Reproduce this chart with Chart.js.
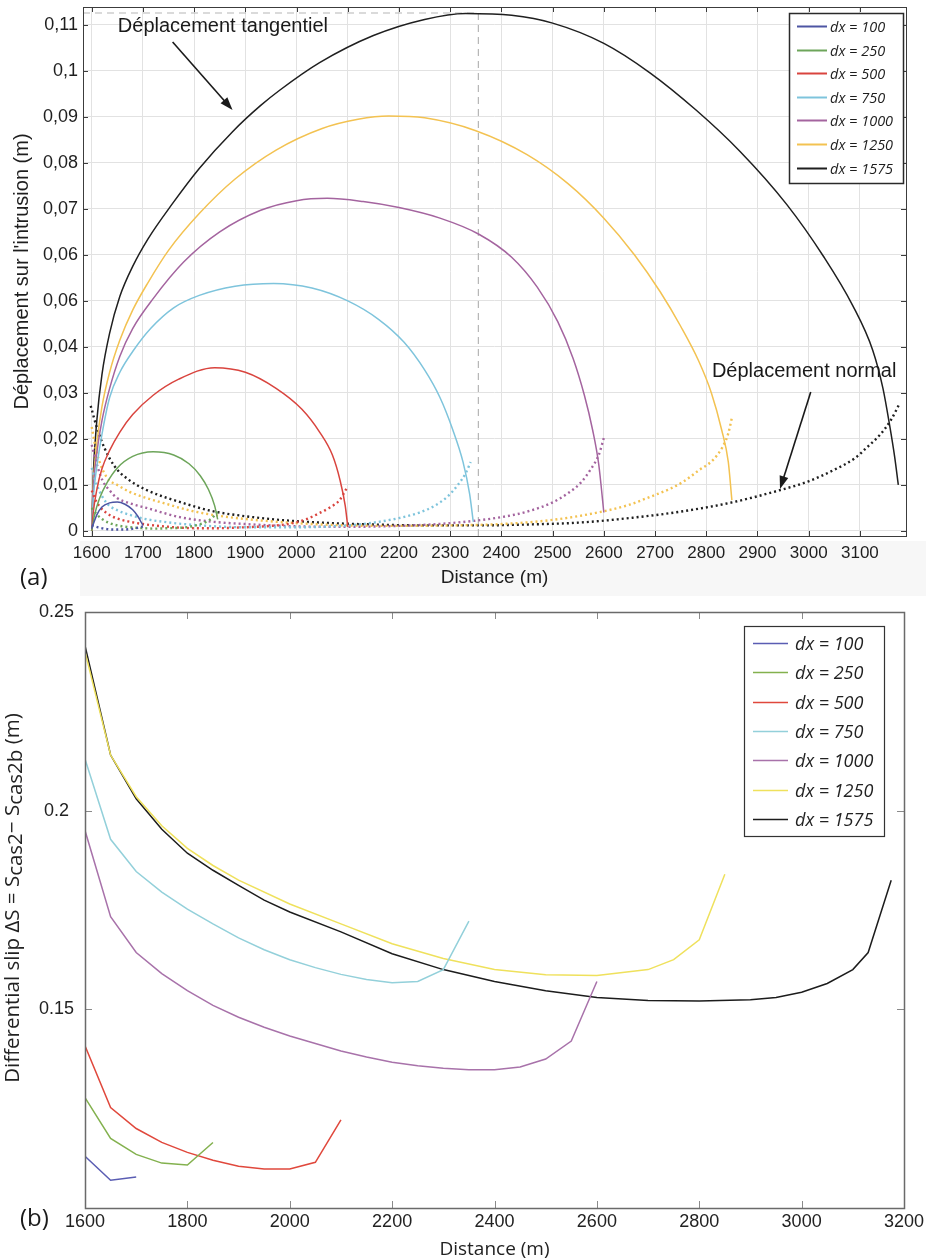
<!DOCTYPE html>
<html><head><meta charset="utf-8">
<script src="https://cdn.jsdelivr.net/npm/chart.js@4.4.1/dist/chart.umd.min.js"></script>
<style>
html,body{margin:0;padding:0;background:#fff;}
#wrap{position:relative;width:926px;height:1260px;overflow:hidden;}
#ca{position:absolute;left:0;top:0;}
#cb{position:absolute;left:0;top:600px;}
</style></head><body>
<div id="wrap">
<canvas id="ca" width="926" height="600"></canvas>
<canvas id="cb" width="926" height="660"></canvas>
</div>
<script>
// ---------------- DATA ----------------
const seriesLabels = ['dx = 100','dx = 250','dx = 500','dx = 750','dx = 1000','dx = 1250','dx = 1575'];

// Panel (a) axis ticks
const xTicksA = [1600,1700,1800,1900,2000,2100,2200,2300,2400,2500,2600,2700,2800,2900,3000,3100];
const xTickLabelsA = ['1600','1700','1800','1900','2000','2100','2200','2300','2400','2500','2600','2700','2800','2900','3000','3100'];
const yTicksA = [0,0.01,0.02,0.03,0.04,0.05,0.06,0.07,0.08,0.09,0.1,0.11];
const yTickLabelsA = ['0','0,01','0,02','0,03','0,04','0,06','0,06','0,07','0,08','0,09','0,1','0,11'];

// Panel (a) tangential displacement (solid)
const tan100X = [1600,1610,1620,1635,1650,1665,1680,1690,1700];
const tan100Y = [0.0005,0.0035,0.0052,0.0061,0.0063,0.0058,0.0046,0.0032,0.0012];
const tan250X = [1600,1605,1615,1630,1650,1680,1720,1760,1790,1812,1828,1840,1846];
const tan250Y = [0,0.0032,0.0070,0.0105,0.0137,0.0162,0.0172,0.0165,0.0146,0.0120,0.0090,0.0055,0.0025];
const tan500X = [1600,1603,1610,1620,1635,1655,1680,1720,1770,1840,1900,1960,2010,2045,2070,2085,2095,2100];
const tan500Y = [0,0.004,0.009,0.0135,0.0175,0.0215,0.0253,0.0295,0.0330,0.0355,0.0345,0.0310,0.0265,0.0215,0.0165,0.0110,0.0055,0.0009];
const tan750X = [1600,1603,1610,1620,1635,1655,1680,1715,1760,1810,1880,1955,2030,2100,2160,2210,2250,2280,2305,2325,2338,2345];
const tan750Y = [0,0.007,0.014,0.021,0.029,0.0345,0.0390,0.0440,0.0485,0.0512,0.0532,0.0538,0.0528,0.0500,0.0460,0.0410,0.0350,0.0290,0.0220,0.0150,0.0080,0.0020];
const tan1000X = [1600,1603,1610,1620,1635,1655,1680,1720,1780,1850,1930,2000,2060,2130,2200,2280,2356,2420,2470,2510,2540,2562,2578,2590,2600];
const tan1000Y = [0,0.009,0.017,0.024,0.031,0.038,0.0440,0.0505,0.0585,0.0650,0.0697,0.0718,0.0723,0.0716,0.0703,0.0680,0.0645,0.0595,0.0530,0.0455,0.0375,0.0295,0.0220,0.0145,0.0040];
const tan1250X = [1600,1603,1610,1620,1635,1655,1680,1710,1750,1810,1880,1960,2050,2120,2180,2250,2350,2450,2530,2600,2660,2710,2750,2785,2810,2830,2843,2850];
const tan1250Y = [0,0.010,0.019,0.027,0.0345,0.0415,0.048,0.054,0.0610,0.0690,0.0765,0.0828,0.0875,0.0895,0.0902,0.0898,0.0870,0.0818,0.0755,0.0680,0.0600,0.0520,0.0445,0.0370,0.0300,0.0220,0.0150,0.0067];
const tan1575X = [1600,1603,1610,1620,1635,1655,1680,1710,1758,1810,1875,1930,1967,2045,2150,2250,2330,2420,2500,2600,2690,2780,2866,2957,3030,3086,3125,3145,3158,3168,3175];
const tan1575Y = [0,0.012,0.024,0.034,0.043,0.051,0.0575,0.0635,0.0712,0.0788,0.0868,0.0925,0.0958,0.1018,0.1077,0.1112,0.1125,0.1121,0.1104,0.1060,0.0996,0.0915,0.0825,0.0710,0.0595,0.0490,0.0393,0.0310,0.0230,0.0160,0.0100];

// Panel (a) normal displacement (dotted)
const nor100X = [1600,1615,1630,1645,1660,1675,1690,1700];
const nor100Y = [0.0012,0.0007,0.0004,0.0003,0.0003,0.0004,0.0007,0.0010];
const nor250X = [1600,1610,1620,1635,1650,1675,1700,1725,1750,1775,1800,1820,1835,1848];
const nor250Y = [0.0050,0.0036,0.0026,0.0017,0.0012,0.0008,0.0006,0.0005,0.0006,0.0007,0.0011,0.0018,0.0028,0.0045];
const nor500X = [1600,1610,1629,1650,1674,1700,1750,1800,1850,1900,1950,1993,2020,2045,2065,2084,2098];
const nor500Y = [0.0088,0.0062,0.0039,0.0027,0.0020,0.0015,0.0009,0.0006,0.0006,0.0008,0.0011,0.0017,0.0026,0.0039,0.0051,0.0067,0.0093];
const nor750X = [1600,1610,1629,1650,1674,1700,1739,1800,1900,2000,2100,2150,2200,2240,2270,2295,2315,2330,2340];
const nor750Y = [0.0137,0.0100,0.0061,0.0045,0.0035,0.0027,0.0020,0.0013,0.0008,0.0008,0.0012,0.0018,0.0028,0.0040,0.0055,0.0075,0.0100,0.0125,0.0150];
const nor1000X = [1600,1610,1621,1635,1649,1675,1707,1772,1836,1900,2000,2100,2200,2300,2400,2450,2500,2530,2555,2575,2590,2600];
const nor1000Y = [0.0187,0.0145,0.0110,0.0088,0.0072,0.0060,0.0050,0.0030,0.0020,0.0015,0.0010,0.0009,0.0011,0.0017,0.0030,0.0042,0.0062,0.0082,0.0105,0.0135,0.0165,0.0202];
const nor1250X = [1600,1610,1629,1650,1674,1700,1739,1790,1836,1900,2000,2100,2200,2300,2400,2500,2592,2650,2690,2730,2755,2787,2813,2832,2843,2850];
const nor1250Y = [0.0226,0.0170,0.0117,0.0100,0.0085,0.0074,0.0061,0.0045,0.0035,0.0026,0.0017,0.0012,0.0011,0.0012,0.0015,0.0024,0.0041,0.0057,0.0074,0.0092,0.0107,0.0133,0.0154,0.0183,0.0212,0.0246];
const nor1575X = [1598,1610,1625,1645,1670,1707,1772,1836,1900,1967,2050,2150,2250,2350,2450,2550,2650,2750,2850,2945,3000,3050,3090,3115,3140,3160,3178];
const nor1575Y = [0.0272,0.0225,0.0180,0.0140,0.0113,0.0089,0.0063,0.0043,0.0032,0.0024,0.0018,0.0014,0.0012,0.0012,0.0014,0.0018,0.0028,0.0042,0.0062,0.0089,0.0108,0.0133,0.0158,0.0183,0.0210,0.0240,0.0278];

// Panel (a) reference (dashed) at maximum tangential displacement
const peakDistance = 2355;
const peakDisplacement = 0.1126;

// Panel (b) axis ticks
const xTicksB = [1600,1800,2000,2200,2400,2600,2800,3000,3200];
const xTickLabelsB = ['1600','1800','2000','2200','2400','2600','2800','3000','3200'];
const yTicksB = [0.15,0.2,0.25];
const yTickLabelsB = ['0.15','0.2','0.25'];

// Panel (b) differential slip
const dif100X = [1600,1650,1700];
const dif100Y = [0.1130,0.1070,0.1078];
const dif250X = [1600,1650,1700,1750,1800,1850];
const dif250Y = [0.1278,0.1175,0.1135,0.1113,0.1108,0.1165];
const dif500X = [1600,1650,1700,1750,1800,1850,1900,1950,2000,2050,2100];
const dif500Y = [0.1408,0.1253,0.1200,0.1165,0.1140,0.1120,0.1105,0.1098,0.1098,0.1115,0.1222];
const dif750X = [1600,1650,1700,1750,1800,1850,1900,1950,2000,2050,2100,2150,2200,2250,2300,2350];
const dif750Y = [0.2130,0.1928,0.1847,0.1795,0.1752,0.1715,0.1680,0.1650,0.1625,0.1605,0.1588,0.1575,0.1567,0.1570,0.1600,0.1722];
const dif1000X = [1600,1650,1700,1750,1800,1850,1900,1950,2000,2050,2100,2150,2200,2250,2300,2350,2400,2450,2500,2550,2600];
const dif1000Y = [0.1950,0.1733,0.1643,0.1590,0.1547,0.1510,0.1480,0.1455,0.1433,0.1414,0.1395,0.1380,0.1367,0.1358,0.1352,0.1348,0.1348,0.1355,0.1375,0.1420,0.1570];
const dif1250X = [1600,1650,1700,1750,1800,1850,1900,2000,2100,2200,2300,2400,2500,2600,2700,2750,2800,2850];
const dif1250Y = [0.2400,0.2140,0.2035,0.1962,0.1905,0.1862,0.1825,0.1765,0.1715,0.1665,0.1628,0.1600,0.1587,0.1585,0.1600,0.1625,0.1675,0.1840];
const dif1575X = [1600,1650,1700,1750,1800,1850,1900,1950,2000,2100,2200,2300,2400,2500,2600,2700,2800,2900,2950,3000,3050,3100,3130,3175];
const dif1575Y = [0.2415,0.2140,0.2030,0.1953,0.1893,0.1850,0.1812,0.1775,0.1745,0.1695,0.1640,0.1600,0.1570,0.1547,0.1530,0.1522,0.1521,0.1524,0.1530,0.1543,0.1565,0.1600,0.1643,0.1825];

// ---------------- STYLE / LAYOUT ----------------
const SANS = "'Liberation Sans', Arial, sans-serif";
const MYR = "'Open Sans', 'Liberation Sans', sans-serif";
Chart.defaults.font.family = SANS;
const colorsA = ['#4d55a3','#6da55a','#d9443e','#7ec4dc','#a4649f','#f3c251','#1f1f1f'];
const colorsB = ['#5a5db3','#83b14e','#e0483c','#93d0da','#a872aa','#efe15c','#1c1c1c'];

const pts = (xs, ys) => xs.map((x, i) => ({x: x, y: ys[i]}));
const tanX = [tan100X,tan250X,tan500X,tan750X,tan1000X,tan1250X,tan1575X];
const tanY = [tan100Y,tan250Y,tan500Y,tan750Y,tan1000Y,tan1250Y,tan1575Y];
const norX = [nor100X,nor250X,nor500X,nor750X,nor1000X,nor1250X,nor1575X];
const norY = [nor100Y,nor250Y,nor500Y,nor750Y,nor1000Y,nor1250Y,nor1575Y];
const difX = [dif100X,dif250X,dif500X,dif750X,dif1000X,dif1250X,dif1575X];
const difY = [dif100Y,dif250Y,dif500Y,dif750Y,dif1000Y,dif1250Y,dif1575Y];

const xMinA = 1583, xMaxA = 3190, yMinA = -0.0011, yMaxA = 0.1139;

const noPadX = s => { s.paddingLeft = 0; s.paddingRight = 0; };
const noPadY = s => { s.paddingTop = 0; s.paddingBottom = 0; };

// ---------------- PLUGINS ----------------
const framePlugin = {
  id: 'frame',
  afterDatasetsDraw(chart, args, o) {
    const {ctx, chartArea: a, scales} = chart;
    ctx.save();
    ctx.setLineDash([]);
    ctx.strokeStyle = o.tickColor; ctx.lineWidth = o.tickWidth;
    ctx.beginPath();
    scales.x.ticks.forEach(t => {
      const p = Math.round(scales.x.getPixelForValue(t.value)) + 0.5;
      if (p <= a.left + 1 || p >= a.right - 1) return;
      ctx.moveTo(p, a.bottom); ctx.lineTo(p, a.bottom - o.len);
      ctx.moveTo(p, a.top); ctx.lineTo(p, a.top + o.len);
    });
    scales.y.ticks.forEach(t => {
      const p = Math.round(scales.y.getPixelForValue(t.value)) + 0.5;
      if (p <= a.top + 1 || p >= a.bottom - 1) return;
      ctx.moveTo(a.left, p); ctx.lineTo(a.left + o.len, p);
      ctx.moveTo(a.right, p); ctx.lineTo(a.right - o.len, p);
    });
    ctx.stroke();
    ctx.strokeStyle = o.color; ctx.lineWidth = o.width;
    ctx.strokeRect(Math.round(a.left) + 0.5, Math.round(a.top) + 0.5, Math.round(a.right - a.left), Math.round(a.bottom - a.top));
    ctx.restore();
  }
};

const boxLegend = {
  id: 'boxLegend',
  afterDraw(chart, args, o) {
    const ctx = chart.ctx;
    ctx.save();
    ctx.setLineDash([]);
    ctx.fillStyle = '#fff';
    ctx.fillRect(o.x, o.y, o.w, o.h);
    ctx.strokeStyle = o.border; ctx.lineWidth = o.borderWidth;
    ctx.strokeRect(o.x + 0.5, o.y + 0.5, o.w, o.h);
    let i = 0;
    chart.data.datasets.forEach(ds => {
      if (!ds.inLegend) return;
      const cy = Math.round(o.y + o.firstRow + i * o.rowGap) + 0.5;
      ctx.strokeStyle = ds.borderColor; ctx.lineWidth = o.sampleWidth;
      ctx.beginPath(); ctx.moveTo(o.x + o.s0, cy); ctx.lineTo(o.x + o.s1, cy); ctx.stroke();
      ctx.fillStyle = o.textColor; ctx.font = o.font;
      ctx.textBaseline = 'middle'; ctx.textAlign = 'left';
      ctx.fillText(ds.label, o.x + o.tx, cy + 1);
      i++;
    });
    ctx.restore();
  }
};

const annotPlugin = {
  id: 'annot',
  beforeDraw(chart, args, o) {
    if (!o.band) return;
    const ctx = chart.ctx;
    ctx.save(); ctx.fillStyle = o.band.color;
    ctx.fillRect(o.band.x, o.band.y, o.band.w, o.band.h);
    ctx.restore();
  },
  afterDraw(chart, args, o) {
    const {ctx, scales} = chart;
    ctx.save();
    ctx.setLineDash([]);
    (o.texts || []).forEach(t => {
      ctx.font = t.font; ctx.fillStyle = t.color || '#1a1a1a';
      ctx.textAlign = t.align || 'left'; ctx.textBaseline = 'middle';
      const x = t.px ? t.at[0] : scales.x.getPixelForValue(t.at[0]);
      const y = t.px ? t.at[1] : scales.y.getPixelForValue(t.at[1]);
      ctx.fillText(t.text, x, y);
    });
    (o.arrows || []).forEach(ar => {
      const x0 = scales.x.getPixelForValue(ar.from[0]), y0 = scales.y.getPixelForValue(ar.from[1]);
      const x1 = scales.x.getPixelForValue(ar.to[0]), y1 = scales.y.getPixelForValue(ar.to[1]);
      const ang = Math.atan2(y1 - y0, x1 - x0);
      const hl = 13, hw = 4.5;
      ctx.strokeStyle = '#1a1a1a'; ctx.fillStyle = '#1a1a1a'; ctx.lineWidth = 1.6;
      ctx.beginPath(); ctx.moveTo(x0, y0);
      ctx.lineTo(x1 - Math.cos(ang) * hl * 0.8, y1 - Math.sin(ang) * hl * 0.8); ctx.stroke();
      ctx.beginPath(); ctx.moveTo(x1, y1);
      ctx.lineTo(x1 - Math.cos(ang) * hl - Math.sin(ang) * hw, y1 - Math.sin(ang) * hl + Math.cos(ang) * hw);
      ctx.lineTo(x1 - Math.cos(ang) * hl + Math.sin(ang) * hw, y1 - Math.sin(ang) * hl - Math.cos(ang) * hw);
      ctx.closePath(); ctx.fill();
    });
    ctx.restore();
  }
};

const richYTitle = {
  id: 'richYTitle',
  afterDraw(chart, args, o) {
    const {ctx, chartArea: a} = chart;
    ctx.save();
    ctx.translate(o.x, (a.top + a.bottom) / 2 + o.dy);
    ctx.rotate(-Math.PI / 2);
    ctx.fillStyle = o.color; ctx.textBaseline = 'middle'; ctx.textAlign = 'left';
    const fMain = o.size + 'px ' + o.family, fSub = (o.size * o.subScale).toFixed(1) + 'px ' + o.family;
    let total = 0;
    o.segments.forEach(s => { ctx.font = s[1] ? fSub : fMain; total += ctx.measureText(s[0]).width; });
    let x = -total / 2;
    o.segments.forEach(s => {
      ctx.font = s[1] ? fSub : fMain;
      ctx.fillText(s[0], x, s[1] ? o.subShift : 0);
      x += ctx.measureText(s[0]).width;
    });
    ctx.restore();
  }
};

// ---------------- CHART (a) ----------------
const dsA = [];
for (let i = 0; i < 7; i++) {
  dsA.push({label: seriesLabels[i], data: pts(tanX[i], tanY[i]), borderColor: colorsA[i], borderWidth: 1.5,
    pointRadius: 0, cubicInterpolationMode: 'monotone', fill: false, inLegend: true});
  dsA.push({label: '', data: pts(norX[i], norY[i]), borderColor: colorsA[i], borderWidth: 2.4,
    borderDash: [2, 3], borderCapStyle: 'butt', pointRadius: 0, cubicInterpolationMode: 'monotone', fill: false});
}
dsA.push({label: '', data: [{x: peakDistance, y: yMinA}, {x: peakDistance, y: yMaxA}], borderColor: '#b5b5b5', borderWidth: 1.2, borderDash: [7, 5], pointRadius: 0});
dsA.push({label: '', data: [{x: xMinA, y: peakDisplacement}, {x: peakDistance, y: peakDisplacement}], borderColor: '#b5b5b5', borderWidth: 1.2, borderDash: [7, 5], pointRadius: 0});

new Chart(document.getElementById('ca'), {
  type: 'line',
  data: {datasets: dsA},
  plugins: [framePlugin, boxLegend, annotPlugin],
  options: {
    responsive: false, animation: false, events: [],
    layout: {padding: {left: 0, top: 7, right: 20, bottom: 0}},
    scales: {
      x: {
        type: 'linear', min: xMinA, max: xMaxA,
        afterBuildTicks: s => { s.ticks = xTicksA.map(v => ({value: v})); },
        afterFit: s => { s.height = 64; noPadX(s); },
        ticks: {callback: (v, i) => xTickLabelsA[i], autoSkip: false, maxRotation: 0, padding: 7,
          color: '#1e1e1e', font: {family: "'Liberation Sans Narrow', " + SANS, size: 17}},
        grid: {color: '#e2e2e2', drawTicks: false, lineWidth: 1},
        border: {display: false},
        title: {display: true, text: 'Distance (m)', color: '#1e1e1e', font: {family: SANS, size: 19}, padding: {top: 0, bottom: 11}}
      },
      y: {
        type: 'linear', min: yMinA, max: yMaxA,
        afterBuildTicks: s => { s.ticks = yTicksA.map(v => ({value: v})); },
        afterFit: s => { s.width = 83; noPadY(s); },
        ticks: {callback: (v, i) => yTickLabelsA[i], autoSkip: false, padding: 5, color: '#1e1e1e', font: {family: SANS, size: 18}},
        grid: {color: '#e2e2e2', drawTicks: false, lineWidth: 1},
        border: {display: false},
        title: {display: true, text: "Déplacement sur l'intrusion (m)", color: '#1e1e1e', font: {family: SANS, size: 20}, padding: {top: 10, bottom: 0}}
      }
    },
    plugins: {
      legend: {display: false}, tooltip: {enabled: false},
      frame: {color: '#3c3c3c', width: 1, tickColor: '#3c3c3c', tickWidth: 1, len: 5},
      boxLegend: {x: 789, y: 13, w: 114, h: 170, firstRow: 13, rowGap: 23.6, s0: 8, s1: 38, tx: 41,
        sampleWidth: 2, border: '#2a2a2a', borderWidth: 1.5, textColor: '#1e1e1e', font: 'italic 14.5px ' + MYR},
      annot: {
        band: {x: 80, y: 541, w: 846, h: 55, color: '#f7f7f7'},
        texts: [
          {text: 'Déplacement tangentiel', at: [1651, 0.1096], font: '20px ' + SANS},
          {text: 'Déplacement normal', at: [2811, 0.0346], font: '20px ' + SANS},
          {text: '(a)', at: [20, 578], px: true, font: '24px ' + MYR}
        ],
        arrows: [
          {from: [1758, 0.1063], to: [1875, 0.0915]},
          {from: [3004, 0.0302], to: [2944, 0.0091]}
        ]
      }
    }
  }
});

// ---------------- CHART (b) ----------------
const dsB = [];
for (let i = 0; i < 7; i++) {
  dsB.push({label: seriesLabels[i], data: pts(difX[i], difY[i]), borderColor: colorsB[i], borderWidth: 1.5,
    pointRadius: 0, tension: 0, fill: false, inLegend: true});
}

new Chart(document.getElementById('cb'), {
  type: 'line',
  data: {datasets: dsB},
  plugins: [framePlugin, boxLegend, annotPlugin, richYTitle],
  options: {
    responsive: false, animation: false, events: [],
    layout: {padding: {left: 0, top: 12, right: 22, bottom: 0}},
    scales: {
      x: {
        type: 'linear', min: 1600, max: 3200,
        afterBuildTicks: s => { s.ticks = xTicksB.map(v => ({value: v})); },
        afterFit: s => { s.height = 52; noPadX(s); },
        ticks: {callback: (v, i) => xTickLabelsB[i], autoSkip: false, maxRotation: 0, padding: 3, color: '#222', font: {family: SANS, size: 18}},
        grid: {display: false, drawTicks: false, tickLength: 0},
        border: {display: false},
        title: {display: true, text: 'Distance (m)', color: '#222', font: {family: MYR, size: 19, lineHeight: 1}, padding: {top: 0, bottom: 1}}
      },
      y: {
        type: 'linear', min: 0.10, max: 0.25,
        afterBuildTicks: s => { s.ticks = yTicksB.map(v => ({value: v})); },
        afterFit: s => { s.width = 85; noPadY(s); },
        ticks: {callback: (v, i) => yTickLabelsB[i], autoSkip: false, crossAlign: 'center', padding: 11, color: '#222', font: {family: SANS, size: 18}},
        grid: {display: false, drawTicks: false, tickLength: 0},
        border: {display: false}
      }
    },
    plugins: {
      legend: {display: false}, tooltip: {enabled: false},
      frame: {color: '#6a6a6a', width: 1.5, tickColor: '#8a8a8a', tickWidth: 1, len: 7},
      boxLegend: {x: 744, y: 26, w: 140, h: 210, firstRow: 17, rowGap: 29.3, s0: 9, s1: 44, tx: 51,
        sampleWidth: 1.5, border: '#333', borderWidth: 1.2, textColor: '#222', font: 'italic 18px ' + MYR},
      annot: {
        texts: [{text: '(b)', at: [20, 619], px: true, font: '24px ' + MYR}]
      },
      richYTitle: {x: 13, dy: -12, size: 20.5, family: MYR, color: '#222', subScale: 1.0, subShift: 3,
        segments: [['Differential slip ΔS = S', false], ['cas2', true], ['− S', false], ['cas2b', true], [' (m)', false]]}
    }
  }
});
</script>
</body></html>
